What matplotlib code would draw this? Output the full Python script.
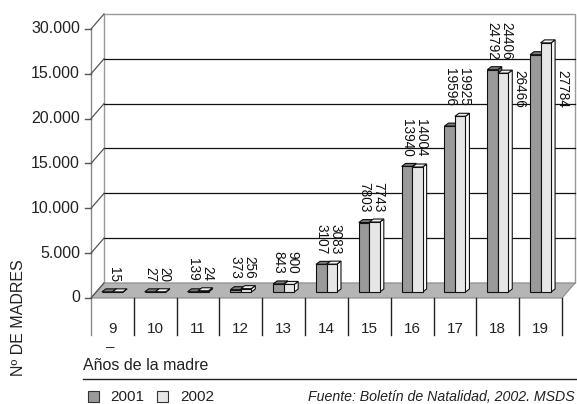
import matplotlib
matplotlib.use('Agg')
import matplotlib.pyplot as plt
from matplotlib.patches import Polygon, Rectangle
from matplotlib.transforms import ScaledTranslation, IdentityTransform
from matplotlib.lines import Line2D

# ---------------- data ----------------
ages = ['9', '10', '11', '12', '13', '14', '15', '16', '17', '18', '19']
births_2001 = [15, 20, 24, 256, 900, 3083, 7743, 14004, 18500, 24792, 26466]
births_2002 = [15, 27, 139, 373, 843, 3107, 7803, 13940, 19596, 24406, 27784]
top_labels = ['15', '20\n27', '24\n139', '256\n373', '900\n843', '3083\n3107',
              '7743\n7803', '14004\n13940', '19925\n19596', '24406\n24792']
side_labels = ['26466', '27784']          # beside ages 18 and 19
yticks = [0, 5000, 10000, 15000, 20000, 25000, 30000]
ytick_labels = ['0', '5.000', '10.000', '15.000', '20.000', '15.000', '30.000']
series_names = ['2001', '2002']
series_colors = ['#9a9a9a', '#e6e6e6']
top_colors = ['#7a7a7a', '#f2f2f2']
side_colors = ['#6e6e6e', '#fafafa']

plt.rcParams['font.family'] = ['Liberation Sans', 'DejaVu Sans']

W, H = 577, 404
fig = plt.figure(figsize=(W / 100, H / 100), dpi=100)

# front frame of the pseudo-3D plot (image pixel coords)
L, R, B, T = 91, 562, 298, 29
ax = fig.add_axes([L / W, (H - B) / H, (R - L) / W, (B - T) / H])
ax.set_xlim(-0.5, len(ages) - 0.5)
ax.set_ylim(0, 30000)
ax.axis('off')
ax.set_zorder(20)

DX, DY = 13, 15      # depth of the back wall (right, up) in px
LIFT = 6             # bars stand a bit behind the front edge
BD = (4, 3)          # bar depth
BW = 0.245           # bar width in category units
ID = IdentityTransform()


def P(x, v, dx=0.0, dy=0.0):
    px, py = ax.transData.transform((x, v))
    return (px + dx, py + dy)


def img(x, y):
    return (x, H - y)


def poly(pts, fc, ec='none', lw=0.8, z=1):
    p = Polygon(pts, closed=True, facecolor=fc, edgecolor=ec, linewidth=lw,
                transform=ID, zorder=z, clip_on=False)
    fig.add_artist(p)


def line(pts, color, lw=1.0, z=2):
    xs = [p[0] for p in pts]
    ys = [p[1] for p in pts]
    fig.add_artist(Line2D(xs, ys, color=color, linewidth=lw, transform=ID,
                          zorder=z, clip_on=False))


x0, x1 = -0.5, len(ages) - 0.5
# back wall
poly([P(x0, 0, DX, DY), P(x1, 0, DX, DY), P(x1, 30000, DX, DY), P(x0, 30000, DX, DY)],
     'white', '#9a9a9a', 1.0, 1)
for v in yticks[1:-1]:
    line([P(x0, v, DX, DY), P(x1, v, DX, DY)], '#111111', 0.9, 1.5)
# floor
poly([P(x0, 0), P(x1, 0), P(x1, 0, DX, DY), P(x0, 0, DX, DY)], '#b5b5b5', '#8a8a8a', 0.8, 2)

# left axis with ticks and diagonals
line([P(x0, 30000), (P(x0, 0)[0], H - 335)], '#8a8a8a', 1.0, 3)
for v, lab in zip(yticks, ytick_labels):
    px, py = P(x0, v)
    line([(px - 6, py), (px, py)], '#555555', 1.0, 3)
    line([(px, py), P(x0, v, DX, DY)], '#555555', 0.9, 3)
    fig.text(80 / W, py / H, lab, ha='right', va='center', fontsize=11.5, color='#222222')

# category cells below the floor
for i in range(len(ages) + 1):
    px, py = P(i - 0.5, 0)
    if i > 0:
        line([(px, py), (px, H - 335)], '#222222', 1.0, 3)
for i, a in enumerate(ages):
    px, _ = P(i, 0)
    fig.text(px / W, (H - 329) / H, a, ha='center', va='center', fontsize=11, color='#222222')

# bars
series = [births_2001, births_2002]
for i in range(len(ages)):
    for s in range(2):
        v = series[s][i]
        xa = i - BW if s == 0 else i
        xb = xa + BW
        fl = P(xa, 0, 0, LIFT)
        fr = P(xb, 0, 0, LIFT)
        tr = P(xb, v, 0, LIFT)
        tl = P(xa, v, 0, LIFT)
        z = 4 + s * 0.1 + i * 0.01
        poly([fr, tr, (tr[0] + BD[0], tr[1] + BD[1]), (fr[0] + BD[0], fr[1] + BD[1])],
             side_colors[s], '#111111', 0.8, z)
        poly([tl, tr, (tr[0] + BD[0], tr[1] + BD[1]), (tl[0] + BD[0], tl[1] + BD[1])],
             top_colors[s], '#111111', 0.8, z)
        poly([fl, fr, tr, tl], series_colors[s], '#111111', 0.8, z)

# value labels
for i, lab in enumerate(top_labels):
    vmax = max(births_2001[i], births_2002[i])
    tr = ax.transData + ScaledTranslation(2 / 100, (LIFT + 10) / 100, fig.dpi_scale_trans)
    ax.text(i, vmax, lab, transform=tr, rotation=-90, ha='center', va='bottom',
            multialignment='right', fontsize=9.8, color='#111111', clip_on=False, zorder=6,
            linespacing=1.0)
side_y = max(births_2001[9], births_2002[9])
for k, lab in enumerate(side_labels):
    i = 9 + k
    tr = ax.transData + ScaledTranslation(0 / 100, LIFT / 100, fig.dpi_scale_trans)
    ax.text(i + 0.5, side_y, lab, transform=tr, rotation=-90, ha='center', va='top',
            fontsize=9.8, color='#111111', clip_on=False, zorder=6)

# small dash under the first category
px9, _ = P(0, 0)
fig.text(px9 / W - 0.004, (H - 347) / H, '–', ha='center', va='center', fontsize=11, color='#222222')

# axis titles
fig.text(83 / W, (H - 365) / H, 'Años de la madre', ha='left', va='center', fontsize=11.5, color='#222222')
line([img(83, 379), img(576, 379)], '#222222', 1.0, 3)
fig.text(19 / W, (H - 318) / H, 'Nº DE MADRES', rotation=90, ha='center', va='center',
         fontsize=11.5, color='#222222')

# legend
for s, (x_sq, x_tx) in enumerate([(88, 110), (157, 180)]):
    fig.add_artist(Rectangle(img(x_sq, 402), 11, 11, facecolor=series_colors[s],
                             edgecolor='#333333', linewidth=0.8, transform=ID, clip_on=False))
    fig.text(x_tx / W, (H - 397) / H, series_names[s], ha='left', va='center',
             fontsize=11, color='#222222')
fig.text(575 / W, (H - 397) / H, 'Fuente: Boletín de Natalidad, 2002. MSDS', ha='right',
         va='center', fontsize=10.2, style='italic', color='#222222')

fig.savefig('out.png', dpi=100)
